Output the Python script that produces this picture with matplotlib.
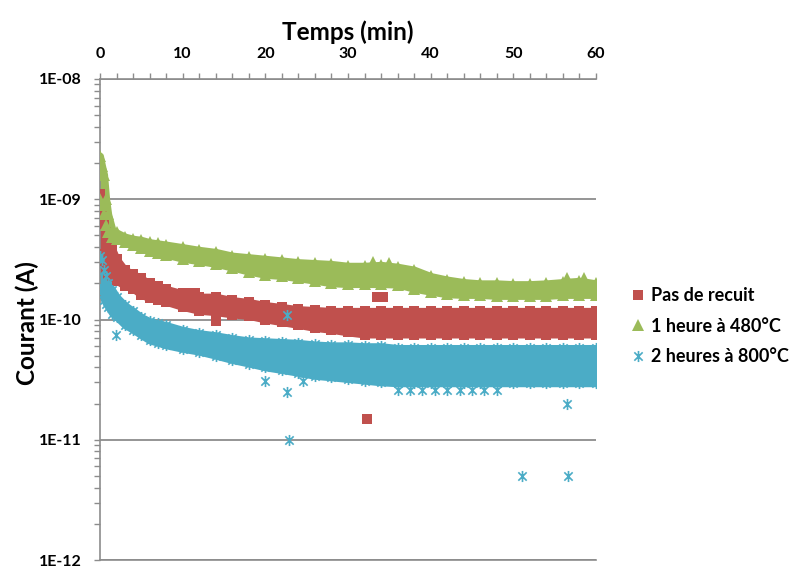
import matplotlib
matplotlib.use("Agg")
import matplotlib.pyplot as plt
from matplotlib.path import Path
from matplotlib.ticker import MultipleLocator, LogLocator, NullFormatter

plt.rcParams['font.family'] = ['Lato', 'DejaVu Sans']
plt.rcParams['font.weight'] = 'bold'

# ---- data ----
t_grid = [0, 0.25, 0.5, 0.75, 1, 1.5, 2, 3, 4, 5, 6, 7, 8, 10, 12, 14, 16, 18, 20,
          22, 24, 26, 28, 30, 32, 34, 36, 38, 40, 42, 44, 46, 48, 50, 52, 54, 56, 58, 60]

red_upper = [1.1e-9, 7.5e-10, 6.2e-10, 5.3e-10, 4.7e-10, 3.85e-10, 3.2e-10, 2.6e-10, 2.4e-10,
             2.2e-10, 2.0e-10, 1.9e-10, 1.8e-10, 1.65e-10, 1.55e-10, 1.55e-10, 1.45e-10, 1.4e-10,
             1.32e-10, 1.27e-10, 1.22e-10, 1.2e-10, 1.18e-10, 1.18e-10, 1.18e-10, 1.18e-10,
             1.18e-10, 1.18e-10, 1.18e-10, 1.18e-10, 1.18e-10, 1.18e-10, 1.18e-10, 1.18e-10,
             1.18e-10, 1.18e-10, 1.18e-10, 1.18e-10, 1.18e-10]
red_lower = [3.5e-10, 3.3e-10, 3.05e-10, 2.7e-10, 2.4e-10, 2.25e-10, 2.1e-10, 1.9e-10, 1.8e-10,
             1.6e-10, 1.5e-10, 1.45e-10, 1.4e-10, 1.27e-10, 1.18e-10, 1.15e-10, 1.1e-10, 1.07e-10,
             1.0e-10, 9.5e-11, 9.0e-11, 8.5e-11, 8.2e-11, 7.8e-11, 7.5e-11, 7.5e-11, 7.5e-11,
             7.5e-11, 7.5e-11, 7.5e-11, 7.5e-11, 7.5e-11, 7.5e-11, 7.5e-11, 7.5e-11, 7.5e-11,
             7.5e-11, 7.5e-11, 7.5e-11]

green_upper = [2.3e-9, 1.9e-9, 1.6e-9, 1.0e-9, 7.5e-10, 5.6e-10, 5.3e-10, 4.9e-10, 4.7e-10,
               4.6e-10, 4.4e-10, 4.3e-10, 4.2e-10, 4.0e-10, 3.8e-10, 3.65e-10, 3.4e-10, 3.3e-10,
               3.2e-10, 3.1e-10, 3.0e-10, 2.95e-10, 2.9e-10, 2.8e-10, 2.8e-10, 2.85e-10, 2.75e-10,
               2.6e-10, 2.3e-10, 2.15e-10, 2.05e-10, 2.0e-10, 2.0e-10, 1.97e-10, 1.97e-10, 2.0e-10,
               2.05e-10, 2.1e-10, 2.0e-10]
green_lower = [1.0e-9, 9.0e-10, 7.5e-10, 6.1e-10, 5.3e-10, 4.9e-10, 4.7e-10, 4.4e-10, 4.2e-10,
               3.9e-10, 3.7e-10, 3.6e-10, 3.45e-10, 3.2e-10, 3.05e-10, 2.9e-10, 2.7e-10, 2.5e-10,
               2.35e-10, 2.3e-10, 2.2e-10, 2.1e-10, 2.0e-10, 1.97e-10, 1.97e-10, 1.97e-10, 1.95e-10,
               1.8e-10, 1.7e-10, 1.62e-10, 1.6e-10, 1.6e-10, 1.57e-10, 1.57e-10, 1.57e-10, 1.57e-10,
               1.6e-10, 1.6e-10, 1.6e-10]

blue_upper = [3.4e-10, 3.1e-10, 2.6e-10, 2.3e-10, 2.0e-10, 1.76e-10, 1.55e-10, 1.32e-10, 1.18e-10,
              1.05e-10, 9.7e-11, 9.3e-11, 9.0e-11, 8.2e-11, 7.7e-11, 7.4e-11, 7.0e-11, 6.7e-11,
              6.6e-11, 6.5e-11, 6.4e-11, 6.2e-11, 6.1e-11, 6.1e-11, 6.0e-11, 6.0e-11, 5.8e-11,
              5.8e-11, 5.8e-11, 5.8e-11, 5.8e-11, 5.8e-11, 5.8e-11, 5.8e-11, 5.8e-11, 5.8e-11,
              5.8e-11, 5.8e-11, 5.8e-11]
blue_lower = [1.8e-10, 1.6e-10, 1.45e-10, 1.35e-10, 1.27e-10, 1.12e-10, 1.05e-10, 9.0e-11, 8.2e-11,
              7.4e-11, 6.7e-11, 6.4e-11, 6.1e-11, 5.7e-11, 5.4e-11, 5.0e-11, 4.6e-11, 4.3e-11,
              4.0e-11, 3.8e-11, 3.6e-11, 3.4e-11, 3.3e-11, 3.2e-11, 3.1e-11, 3.0e-11, 2.95e-11,
              2.95e-11, 2.95e-11, 2.95e-11, 2.95e-11, 2.95e-11, 2.95e-11, 2.95e-11, 2.95e-11, 2.95e-11,
              2.95e-11, 2.95e-11, 2.95e-11]

red_extra_t = [10.5, 11.5, 14.0, 32.3, 33.5, 34.2]
red_extra_i = [1.65e-10, 1.65e-10, 9.7e-11, 1.5e-11, 1.55e-10, 1.55e-10]

green_extra_t = [0.0, 0.1, 33.0, 35.0, 56.5, 58.5]
green_extra_i = [2.0e-9, 1.6e-9, 3.0e-10, 2.95e-10, 2.2e-10, 2.2e-10]

blue_extra_t = [1.9, 20.0, 22.6, 22.9, 24.5, 22.6, 56.5, 51.0, 56.6,
                36.0, 37.5, 39.0, 40.5, 42.0, 43.5, 45.0, 46.5, 48.0]
blue_extra_i = [7.5e-11, 3.1e-11, 2.5e-11, 1.0e-11, 3.1e-11, 1.1e-10, 2.0e-11, 5.0e-12, 5.0e-12,
                2.6e-11, 2.6e-11, 2.6e-11, 2.6e-11, 2.6e-11, 2.6e-11, 2.6e-11, 2.6e-11, 2.6e-11]

labels = ["Pas de recuit", "1 heure à 480°C", "2 heures à 800°C"]
x_ticks = [0, 10, 20, 30, 40, 50, 60]
y_ticks = [1e-12, 1e-11, 1e-10, 1e-9, 1e-8]
y_ticklabels = ["1E-12", "1E-11", "1E-10", "1E-09", "1E-08"]

# ---- style ----
RED = "#C0504D"
GREEN = "#9BBB59"
BLUE = "#4BACC6"
GRID = "#8C8C8C"

asterisk = Path([(0, -1), (0, 1), (-0.75, -0.75), (0.75, 0.75), (-0.75, 0.75), (0.75, -0.75)],
                [Path.MOVETO, Path.LINETO, Path.MOVETO, Path.LINETO, Path.MOVETO, Path.LINETO])

fig = plt.figure(figsize=(7.96, 5.67), dpi=100)
ax = fig.add_axes([0.1256, 0.0123, 0.6231, 0.8484])
ax.set_yscale('log')
ax.set_xlim(0, 60)
ax.set_ylim(1e-12, 1e-8)

series = [
    (red_upper, red_lower, red_extra_t, red_extra_i, RED, 5,
     dict(marker='s', ms=7.5, mec=RED, mfc=RED, mew=0)),
    (green_upper, green_lower, green_extra_t, green_extra_i, GREEN, 5,
     dict(marker='^', ms=8, mec=GREEN, mfc=GREEN, mew=0)),
    (blue_upper, blue_lower, blue_extra_t, blue_extra_i, BLUE, 5,
     dict(marker=asterisk, ms=8, mec=BLUE, mfc='none', mew=1.2)),
]
handles = []
for (up, lo, et, ei, col, edge_w, mk), lab in zip(series, labels):
    ax.fill_between(t_grid, lo, up, facecolor=col, edgecolor=col, lw=edge_w, zorder=2)
    h, = ax.plot(t_grid, up, ls='none', zorder=3, label=lab, **mk)
    ax.plot(t_grid, lo, ls='none', zorder=3, **mk)
    ax.plot(et, ei, ls='none', zorder=3, **mk)
    handles.append(h)

# grid and spines
ax.set_yticks(y_ticks)
ax.set_yticklabels(y_ticklabels)
ax.yaxis.set_minor_locator(LogLocator(base=10, subs=range(2, 10), numticks=20))
ax.yaxis.set_minor_formatter(NullFormatter())
ax.yaxis.grid(True, which='major', color=GRID, lw=1.3, zorder=1)
ax.set_axisbelow(True)
ax.spines['right'].set_visible(False)
for s in ['left', 'top', 'bottom']:
    ax.spines[s].set_color(GRID)
    ax.spines[s].set_linewidth(1.2)

ax.xaxis.tick_top()
ax.xaxis.set_label_position('top')
ax.set_xticks(x_ticks)
ax.xaxis.set_minor_locator(MultipleLocator(2))
ax.tick_params(axis='x', which='both', direction='out', length=4, width=1, color=GRID,
               labelsize=11.5, pad=9)
ax.tick_params(axis='y', which='both', direction='out', length=4, width=1, color=GRID,
               labelsize=11.5, pad=9)
for lbl in ax.get_xticklabels() + ax.get_yticklabels():
    lbl.set_fontweight('bold')

ax.set_xlabel("Temps (min)", fontsize=17.5, fontweight='bold', labelpad=5)
fig.text(0.034, 0.43, "Courant (A)", rotation=90, fontsize=17.5, fontweight='bold',
         ha='center', va='center')

fig.legend(handles=handles, labels=labels, loc='center left', bbox_to_anchor=(0.776, 0.425),
           frameon=False, handlelength=0.6, handletextpad=0.45, borderpad=0.3,
           labelspacing=0.75, prop={'weight': 'bold', 'size': 13})

fig.savefig("out.png", dpi=100)
